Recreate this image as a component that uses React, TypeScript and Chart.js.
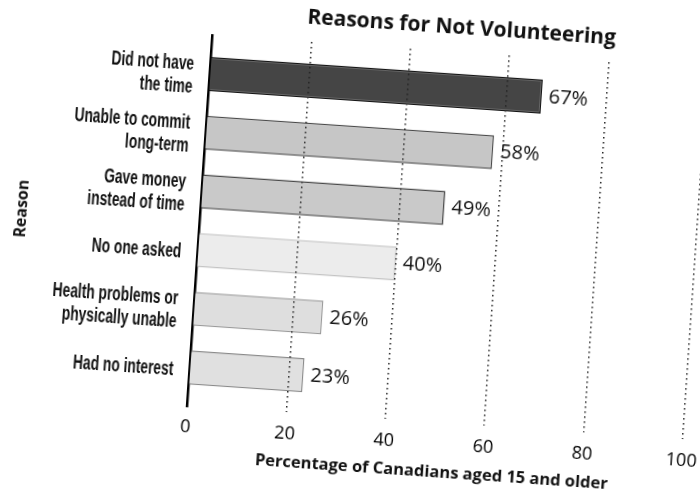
import React, { useEffect, useRef } from 'react';
import { Chart, registerables } from 'chart.js';

Chart.register(...registerables);

const titleText = 'Reasons for Not Volunteering';
const xTitle = 'Percentage of Canadians aged 15 and older';
const yTitle = 'Reason';
const categories: (string | string[])[] = [
  ['Did not have', 'the time'],
  ['Unable to commit', 'long-term'],
  ['Gave money', 'instead of time'],
  'No one asked',
  ['Health problems or', 'physically unable'],
  'Had no interest',
];
const values = [67, 58, 49, 40, 26, 23];
const xTicks = [0, 20, 40, 60, 80, 100];
const fills = ['#454545', '#c6c6c6', '#c9c9c9', '#ececec', '#dedede', '#e0e0e0'];
const borders = ['#141414', '#4a4a4a', '#4a4a4a', '#c4c4c4', '#9a9a9a', '#8a8a8a'];

const SANS = '"Open Sans", "DejaVu Sans", sans-serif';
const NARROW = '"Liberation Sans", Arial, sans-serif';

const titlePlugin = {
  id: 'customTitle',
  afterDraw(chart: any) {
    const { ctx, chartArea } = chart;
    ctx.save();
    ctx.font = `bold 21px ${SANS}`;
    ctx.fillStyle = '#111';
    ctx.textAlign = 'center';
    ctx.textBaseline = 'middle';
    ctx.fillText(titleText, (chartArea.left + chartArea.right) / 2, chartArea.top - 24);
    ctx.restore();
  },
};

const categoryLabels = {
  id: 'categoryLabels',
  afterDraw(chart: any) {
    const { ctx, chartArea } = chart;
    const yScale = chart.scales.y;
    const lineH = 23;
    ctx.save();
    ctx.font = `bold 20px ${NARROW}`;
    ctx.fillStyle = '#111';
    ctx.textAlign = 'right';
    ctx.textBaseline = 'middle';
    categories.forEach((cat, i) => {
      const lines = Array.isArray(cat) ? cat : [cat];
      const cy = yScale.getPixelForValue(i);
      lines.forEach((line, k) => {
        const ly = cy - ((lines.length - 1) * lineH) / 2 + k * lineH + 3;
        ctx.save();
        ctx.translate(chartArea.left - 16, ly);
        ctx.scale(0.69, 1);
        ctx.fillText(line, 0, 0);
        ctx.restore();
      });
    });
    ctx.restore();
  },
};

const valueLabels = {
  id: 'valueLabels',
  afterDatasetsDraw(chart: any) {
    const { ctx } = chart;
    const meta = chart.getDatasetMeta(0);
    ctx.save();
    ctx.font = `20px ${SANS}`;
    ctx.fillStyle = '#111';
    ctx.textAlign = 'left';
    ctx.textBaseline = 'middle';
    meta.data.forEach((el: any, i: number) => {
      ctx.fillText(`${values[i]}%`, el.x + 7, el.y);
    });
    ctx.restore();
  },
};

export default function App() {
  const ref = useRef<HTMLCanvasElement | null>(null);

  useEffect(() => {
    if (!ref.current) return;
    const chart = new Chart(ref.current, {
      type: 'bar',
      data: {
        datasets: [
          {
            data: values.map((v, i) => ({ x: v, y: i })) as any,
            backgroundColor: fills,
            borderColor: borders,
            borderWidth: 1.5,
            barPercentage: 0.58,
            categoryPercentage: 1,
          },
        ],
      },
      plugins: [titlePlugin, valueLabels, categoryLabels],
      options: {
        indexAxis: 'y',
        responsive: false,
        animation: false,
        devicePixelRatio: 1,
        layout: { padding: { top: 98, left: 61, right: 65, bottom: 40 } },
        plugins: {
          legend: { display: false },
          tooltip: { enabled: false },
          title: { display: false },
        },
        scales: {
          x: {
            type: 'linear',
            min: 0,
            max: 100,
            afterBuildTicks: (s: any) => {
              s.ticks = xTicks.map((v) => ({ value: v }));
            },
            afterFit: (s: any) => {
              s.height = 90;
            },
            ticks: {
              font: { family: SANS, size: 18 },
              color: '#000',
              padding: 10,
              autoSkip: false,
              maxRotation: 0,
            },
            grid: {
              color: (c: any) => (c.tick && c.tick.value === 0 ? 'rgba(0,0,0,0)' : '#222'),
              lineWidth: 1.5,
              drawTicks: false,
              z: 1,
            },
            border: { display: true, color: '#000', width: 2.5, dash: [1.5, 3.5] },
            title: {
              display: true,
              text: xTitle,
              font: { family: SANS, size: 16.5, weight: 'bold' },
              color: '#111',
              padding: { top: 0, bottom: 31 },
            },
          },
          y: {
            type: 'linear',
            offset: false,
            min: -0.66,
            max: 5.66,
            reverse: true,
            afterBuildTicks: (s: any) => {
              s.ticks = categories.map((_, i) => ({ value: i }));
            },
            afterFit: (s: any) => {
              s.width = 197;
            },
            ticks: { display: false },
            grid: { display: false, drawTicks: false, offset: false },
            border: { display: true, color: '#000', width: 2.5 },
            title: {
              display: true,
              text: yTitle,
              font: { family: SANS, size: 16, weight: 'bold' },
              color: '#111',
              padding: { top: 10, bottom: 0 },
            },
          },
        },
      } as any,
    });
    return () => chart.destroy();
  }, []);

  return (
    <div style={{ position: 'fixed', left: 0, top: 0, width: 700, height: 494, overflow: 'hidden', background: '#fff' }}>
      <div
        style={{
          position: 'absolute',
          left: -60,
          top: -53,
          width: 820,
          height: 600,
          transform: 'rotate(3.9deg)',
          transformOrigin: '50% 50%',
        }}
      >
        <canvas
          ref={ref}
          width={820}
          height={600}
          style={{ display: 'block', width: 820, height: 600, background: '#fff' }}
        />
      </div>
    </div>
  );
}
